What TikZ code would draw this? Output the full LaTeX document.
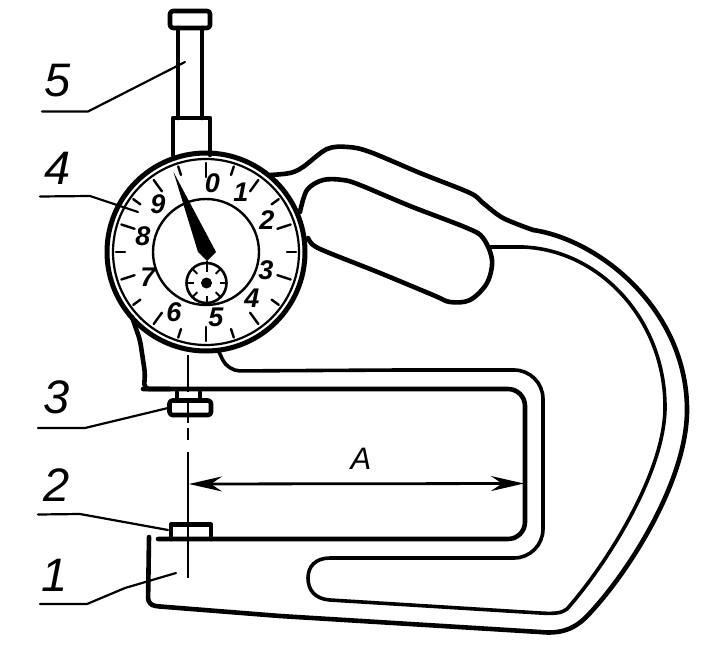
\documentclass[tikz,border=0pt]{standalone}
\usepackage{fontspec}
\setmainfont{Liberation Sans}
\usetikzlibrary{arrows.meta,calc}
\tikzset{
  body/.style={line width=3.6pt,line cap=round,line join=round},
  heavy/.style={line width=4.6pt,line cap=round,line join=round},
  thinl/.style={line width=2.4pt,line cap=round,line join=round},
  leader/.style={line width=2.2pt,line cap=round,line join=round},
  centre/.style={line width=2.2pt},
  biglabel/.style={font=\fontsize{47}{47}\selectfont\itshape,inner sep=0pt},
  dimlabel/.style={font=\fontsize{31}{31}\selectfont\itshape,inner sep=0pt},
  dialnum/.style={font=\fontsize{27}{27}\selectfont\bfseries\itshape,inner sep=0pt},
  dimline/.style={line width=2.8pt,{Stealth[length=33pt,width=15pt,inset=11pt,fill=black]}-{Stealth[length=33pt,width=15pt,inset=11pt,fill=black]}}
}
\begin{document}
\begin{tikzpicture}[x=1pt,y=-1pt]
\useasboundingbox (0,0) rectangle (714,652);
% spindle
\draw[heavy,rounded corners=3pt] (170,11) rectangle (210,28);
\draw[heavy] (178,28) -- (178,118);
\draw[heavy] (202,28) -- (202,118);
\draw[heavy] (173,155) -- (173,118) -- (210,118) -- (210,155);
% dial
\coordinate (dc) at (206,252);
\draw[line width=5pt] (dc) circle[radius=99];
\draw[line width=2.2pt] (dc) circle[radius=93];
\draw[thinl] (dc) circle[radius=53];
\foreach \a in {0,36,...,324}
  \draw[thinl] ($(dc)+(90-\a:89)$) -- ($(dc)+(90-\a:75)$);
\foreach \a in {18,54,...,342}
  \draw[thinl] ($(dc)+(90-\a:90)$) -- ($(dc)+(90-\a:81)$);
\coordinate (sc) at (206.5,283);
\draw[line width=2.6pt] (sc) circle[radius=20];
\foreach \a in {0,45,...,315}
  \draw[line width=2pt] ($(sc)+(\a:20)$) -- ($(sc)+(\a:13)$);
\fill (sc) circle[radius=5.5];
\fill (173.5,172) -- (216,252) -- (207,261) -- (198,252) -- cycle;
\draw[line width=2.2pt] (207,261) -- (207,272);
% dial numbers
\node[dialnum] (n0) at (212.5,183) {0};
\node[dialnum] (n1) at (241,192) {1};
\node[dialnum] (n2) at (267,220) {2};
\node[dialnum] (n3) at (266,270) {3};
\node[dialnum] (n4) at (252,298) {4};
\node[dialnum] (n5) at (216,317) {5};
\node[dialnum] (n6) at (174,312) {6};
\node[dialnum] (n7) at (148,277) {7};
\node[dialnum] (n8) at (143,236) {8};
\node[dialnum] (n9) at (158,204) {9};
% frame: outer contour
\draw[heavy] plot[smooth,tension=0.55] coordinates {(270,175) (290,173) (303,167) (327,149) (348,147) (370,152) (420,173) (470,193) (483,203) (503,218) (533,230)};
\draw[heavy] (533,230) .. controls (600,240) and (687,310) .. (687,410)
  .. controls (687,480) and (630,570) .. (590,613)
  .. controls (575,630) and (560,634) .. (540,632)
  -- (280,616) -- (160,606.5);
\draw[heavy,rounded corners=7pt] (160,606.5) -- (148,605) -- (149,537);
% frame: arm and gap contour
\draw[body] (490,247) -- (523,247) .. controls (600,250) and (665,320) .. (665,407)
  .. controls (665,470) and (610,560) .. (567,609)
  .. controls (562,613) and (555,614) .. (540,613)
  -- (330,600) .. controls (315,599) and (308,590) .. (308,578)
  .. controls (308,566) and (316,558) .. (330,558) -- (400,558);
\draw[body,rounded corners=29pt] (400,558) -- (543,558) -- (543,370) -- (400,370);
\draw[body,rounded corners=12pt] (400,370) -- (228,371) -- (219,352);
% frame: inner opening
\draw[heavy,rounded corners=17pt] (143,389) -- (525,389) -- (525,539) -- (158,539);
\draw[heavy,rounded corners=5pt] (132,317) -- (140,340) -- (145,373) -- (144,389) -- (170,389);
% frame: window
\draw[heavy] plot[smooth,tension=0.55] coordinates {(300,212) (307,190) (323,180) (343,180) (360,185) (410,206) (467,228) (483,238) (492,260) (487,283) (470,300) (450,302) (433,295) (380,273) (327,252) (313,245) (308,238)};
% anvils
\draw[heavy,rounded corners=3pt] (169.5,400.5) rectangle (211,415);
\draw[body] (177,392) -- (177,400) (200,392) -- (200,400);
\draw[heavy] (171,539) -- (171,524.5) -- (211,524.5) -- (211,539);
% centre line
\draw[centre] (188,355) -- (188,392);
\draw[centre] (188,398) -- (188,423);
\draw[centre] (188,428) -- (188,440);
\draw[centre] (188,452) -- (188,578);
% dimension
\coordinate (dl) at (189,484);
\coordinate (dr) at (524,483.5);
\draw[dimline] (dl) -- (dr);
\node[dimlabel] (la) at (361,459) {A};
% leaders and labels
\draw[leader] (42,111.5) -- (88,111.5) -- (185,62);
\draw[leader] (40,196.5) -- (90,196) -- (138,212);
\draw[leader] (38,428) -- (85,428) -- (168,408);
\draw[leader] (38,514.5) -- (80,514) -- (168,530);
\draw[leader] (40,604) -- (87,604) -- (125,588) -- (176,573);
\node[biglabel] (l5) at (58,81) {5};
\node[biglabel] (l4) at (58,168) {4};
\node[biglabel] (l3) at (57,397) {3};
\node[biglabel] (l2) at (57,485) {2};
\node[biglabel] (l1) at (55,575) {1};
\end{tikzpicture}
\end{document}
